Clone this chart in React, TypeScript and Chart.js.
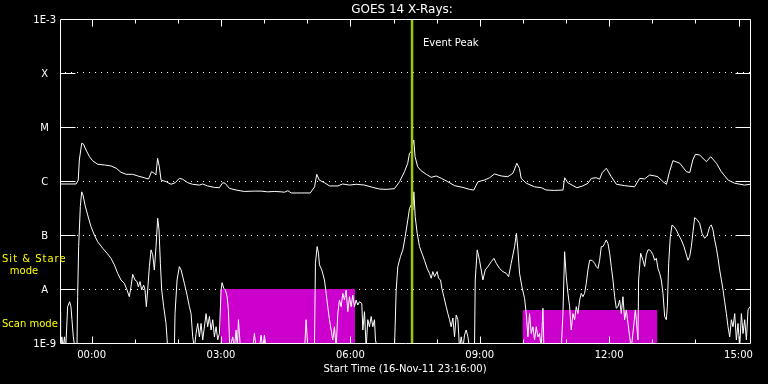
import React, { useEffect, useRef } from 'react';
import { Chart, registerables } from 'chart.js';

Chart.register(...registerables);

const FONT = "'DejaVu Sans', 'Liberation Sans', sans-serif";

// Time axis: hours relative to 17-Nov-11 00:00 (start 16-Nov-11 23:16:00, 16 h window)
const xMinHour = -44 / 60;
const xMaxHour = 16 - 44 / 60;
const xTickHours = [0, 3, 6, 9, 12, 15];
const xTickLabels = ['00:00', '03:00', '06:00', '09:00', '12:00', '15:00'];

const yTickValues = [1e-9, 1e-8, 1e-7, 1e-6, 1e-5, 1e-4, 1e-3];
const yTickLabels = ['1E-9', 'A', 'B', 'C', 'M', 'X', '1E-3'];

const eventPeakHour = 7.43;

// [hour, flux W/m^2] - long channel (1-8 A)
const longChannel: [number, number][] = [
  [-0.733, 8.8e-7], [-0.36, 8.8e-7], [-0.31, 1.04e-6], [-0.285, 2.45e-6], [-0.23, 5.0e-6],
  [-0.19, 4.84e-6], [-0.13, 3.75e-6], [-0.05, 2.82e-6], [0.02, 2.38e-6], [0.14, 2.04e-6],
  [0.30, 1.98e-6], [0.45, 1.9e-6], [0.57, 1.72e-6], [0.68, 1.45e-6], [0.80, 1.33e-6],
  [0.95, 1.33e-6], [1.07, 1.24e-6], [1.22, 1.15e-6], [1.32, 1.09e-6], [1.39, 1.49e-6],
  [1.455, 1.39e-6], [1.49, 1.29e-6], [1.53, 2.63e-6], [1.57, 1.84e-6], [1.61, 1.04e-6],
  [1.73, 9.7e-7], [1.84, 8.7e-7], [1.94, 9.3e-7], [2.035, 1.12e-6], [2.11, 1.08e-6],
  [2.23, 9.3e-7], [2.34, 8.7e-7], [2.50, 8.4e-7], [2.575, 8.8e-7], [2.69, 8.1e-7],
  [2.85, 7.6e-7], [2.96, 7.5e-7], [3.04, 9.3e-7], [3.095, 9.1e-7], [3.195, 7.3e-7],
  [3.35, 6.8e-7], [3.54, 6.4e-7], [3.775, 6.5e-7], [3.93, 6.5e-7], [4.08, 6.3e-7],
  [4.24, 6.4e-7], [4.39, 6.3e-7], [4.47, 6.2e-7], [4.55, 6.6e-7], [4.63, 6.0e-7],
  [4.86, 6.0e-7], [5.07, 6.0e-7], [5.17, 7.8e-7], [5.22, 1.33e-6], [5.28, 1.04e-6],
  [5.40, 9.3e-7], [5.515, 8.1e-7], [5.71, 8.1e-7], [5.82, 8.8e-7], [5.98, 8.4e-7],
  [6.135, 8.7e-7], [6.33, 8.4e-7], [6.52, 7.6e-7], [6.675, 7.1e-7], [6.83, 7.0e-7],
  [7.02, 7.2e-7], [7.14, 9.7e-7], [7.255, 1.49e-6], [7.33, 2.13e-6], [7.37, 3.26e-6],
  [7.41, 3.49e-6], [7.47, 5.74e-6], [7.50, 2.82e-6], [7.56, 1.84e-6], [7.64, 1.55e-6],
  [7.76, 1.33e-6], [7.875, 1.17e-6], [7.99, 1.24e-6], [8.11, 1.12e-6], [8.26, 9.7e-7],
  [8.415, 8.2e-7], [8.61, 7.6e-7], [8.76, 7.0e-7], [8.86, 6.8e-7], [8.96, 9.7e-7],
  [9.11, 1.04e-6], [9.23, 1.15e-6], [9.34, 1.35e-6], [9.50, 1.24e-6], [9.65, 1.2e-6],
  [9.77, 1.39e-6], [9.86, 2.13e-6], [9.92, 1.72e-6], [9.96, 1.12e-6], [10.08, 9.1e-7],
  [10.27, 7.8e-7], [10.43, 7.5e-7], [10.54, 6.8e-7], [10.735, 6.7e-7], [10.93, 6.8e-7],
  [10.97, 1.15e-6], [11.04, 9.3e-7], [11.14, 8.4e-7], [11.25, 7.5e-7], [11.39, 8.1e-7],
  [11.51, 9.1e-7], [11.59, 1.12e-6], [11.70, 1.15e-6], [11.78, 1.08e-6], [11.84, 1.43e-6],
  [11.935, 1.72e-6], [12.05, 1.2e-6], [12.17, 8.7e-7], [12.36, 8.2e-7], [12.59, 7.8e-7],
  [12.71, 1.12e-6], [12.82, 1.09e-6], [12.94, 1.29e-6], [13.06, 1.24e-6], [13.13, 1.2e-6],
  [13.25, 9.7e-7], [13.33, 8.7e-7], [13.40, 1.49e-6], [13.48, 2.38e-6], [13.64, 2.13e-6],
  [13.79, 1.49e-6], [13.87, 1.43e-6], [13.94, 2.45e-6], [14.00, 3.12e-6], [14.10, 3.03e-6],
  [14.255, 2.28e-6], [14.355, 2.82e-6], [14.49, 2.13e-6], [14.60, 1.49e-6], [14.76, 1.04e-6],
  [14.91, 9.1e-7], [15.14, 8.4e-7], [15.267, 8.7e-7],
];

// [hour, flux W/m^2] - short channel (0.5-4 A); values below 1E-9 sit under the axis
const shortChannel: [number, number][] = [
  [-0.733, 3.8e-9], [-0.72, 8e-10], [-0.69, 1.3e-9], [-0.66, 8e-10], [-0.63, 1.3e-9],
  [-0.60, 8e-10], [-0.556, 4.7e-9], [-0.51, 5.8e-9], [-0.479, 4.7e-9], [-0.456, 2.7e-9],
  [-0.425, 1.3e-9], [-0.386, 8e-10], [-0.34, 8e-10], [-0.324, 7.2e-9], [-0.301, 6.1e-8],
  [-0.262, 3.35e-7], [-0.231, 6.3e-7], [-0.20, 5.5e-7], [-0.154, 3.6e-7], [-0.092, 2.35e-7],
  [-0.015, 1.43e-7], [0.063, 1.0e-7], [0.14, 7.5e-8], [0.256, 5.7e-8], [0.372, 4.45e-8],
  [0.449, 3.7e-8], [0.527, 2.8e-8], [0.604, 1.95e-8], [0.681, 1.47e-8], [0.759, 1.27e-8],
  [0.821, 9.6e-9], [0.874, 7.2e-9], [0.913, 1.1e-8], [0.952, 1.87e-8], [1.006, 1.47e-8],
  [1.053, 1.37e-8], [1.084, 1.1e-8], [1.122, 1.37e-8], [1.161, 9.6e-9], [1.207, 1.18e-8],
  [1.238, 9.6e-9], [1.269, 4.7e-9], [1.30, 9.6e-9], [1.339, 2.6e-8], [1.378, 5.3e-8],
  [1.416, 4.3e-8], [1.455, 2.25e-8], [1.493, 6.1e-8], [1.532, 2.04e-7], [1.563, 1.24e-7],
  [1.594, 3.0e-8], [1.625, 9.6e-9], [1.671, 4.7e-9], [1.725, 2.3e-9], [1.764, 8e-10],
  [1.919, 8e-10], [1.934, 3.5e-9], [1.981, 1.47e-8], [2.035, 2.6e-8], [2.074, 2.25e-8],
  [2.151, 1.27e-8], [2.213, 7.7e-9], [2.267, 4.7e-9], [2.306, 3.5e-9], [2.344, 1.3e-9],
  [2.383, 8e-10], [2.422, 1.5e-9], [2.46, 2.3e-9], [2.499, 1.3e-9], [2.538, 2.3e-9],
  [2.576, 1.14e-9], [2.654, 3.5e-9], [2.692, 2.0e-9], [2.731, 3.1e-9], [2.77, 1.74e-9],
  [2.809, 2.7e-9], [2.847, 1.3e-9], [2.886, 2.0e-9], [2.924, 1.14e-9], [2.963, 1.5e-9],
  [3.002, 9.6e-9], [3.025, 1.31e-8], [3.064, 1.03e-8], [3.102, 9.6e-9], [3.141, 7.2e-9],
  [3.172, 4.1e-9], [3.203, 8e-10], [3.272, 1.3e-9], [3.31, 8e-10], [3.35, 1.74e-9],
  [3.38, 8e-10], [3.404, 2.7e-9], [3.45, 8e-10], [3.736, 8e-10], [3.775, 1.5e-9],
  [3.814, 8e-10], [3.891, 8e-10], [3.929, 1.4e-9], [3.968, 8e-10], [4.007, 1.4e-9],
  [4.045, 8e-10], [4.94, 8e-10], [4.974, 2.7e-9], [5.012, 8e-10], [5.167, 8e-10],
  [5.19, 3.0e-8], [5.229, 6.1e-8], [5.26, 4.6e-8], [5.283, 2.8e-8], [5.337, 2.25e-8],
  [5.399, 1.47e-8], [5.438, 8.3e-9], [5.476, 4.7e-9], [5.515, 2.7e-9], [5.554, 1.74e-9],
  [5.592, 1.14e-9], [5.631, 2.0e-9], [5.67, 8e-10], [5.708, 3.5e-9], [5.747, 6.25e-9],
  [5.786, 4.7e-9], [5.824, 8.3e-9], [5.863, 6.25e-9], [5.902, 9.6e-9], [5.94, 3.8e-9],
  [5.979, 7.2e-9], [6.018, 4.7e-9], [6.056, 7.7e-9], [6.095, 4.7e-9], [6.134, 6.25e-9],
  [6.172, 5.05e-9], [6.211, 5.8e-9], [6.265, 5.4e-9], [6.289, 1.74e-9], [6.327, 3.8e-9],
  [6.366, 8e-10], [6.404, 2.7e-9], [6.443, 2.0e-9], [6.482, 3.1e-9], [6.52, 2.0e-9],
  [6.559, 2.7e-9], [6.582, 1.14e-9], [6.621, 8e-10], [7.023, 8e-10], [7.062, 9.6e-9],
  [7.10, 2.6e-8], [7.162, 4.0e-8], [7.217, 5.3e-8], [7.271, 9.3e-8], [7.332, 1.9e-7],
  [7.371, 3.1e-7], [7.41, 3.6e-7], [7.449, 2.9e-7], [7.472, 6.3e-7], [7.503, 2.2e-7],
  [7.549, 1.07e-7], [7.603, 6.1e-8], [7.658, 4.6e-8], [7.719, 3.4e-8], [7.781, 2.4e-8],
  [7.835, 1.95e-8], [7.874, 1.58e-8], [7.912, 2.1e-8], [7.951, 1.69e-8], [8.013, 2.1e-8],
  [8.044, 1.58e-8], [8.091, 1.47e-8], [8.121, 1.03e-8], [8.168, 7.2e-9], [8.222, 4.7e-9],
  [8.261, 3.5e-9], [8.299, 2.7e-9], [8.338, 2.0e-9], [8.377, 2.9e-9], [8.415, 1.3e-9],
  [8.454, 3.3e-9], [8.493, 2.7e-9], [8.531, 8e-10], [8.57, 1.3e-9], [8.609, 8e-10],
  [8.647, 1.4e-9], [8.686, 1.74e-9], [8.725, 1.3e-9], [8.763, 8e-10], [8.879, 8e-10],
  [8.895, 1.47e-8], [8.941, 5.3e-8], [8.995, 3.4e-8], [9.034, 2.25e-8], [9.073, 1.47e-8],
  [9.127, 2.25e-8], [9.189, 2.6e-8], [9.266, 3.2e-8], [9.328, 3.7e-8], [9.382, 3.0e-8],
  [9.46, 2.4e-8], [9.537, 2.1e-8], [9.614, 1.95e-8], [9.669, 1.69e-8], [9.73, 3.0e-8],
  [9.808, 6.1e-8], [9.85, 1.07e-7], [9.885, 5.3e-8], [9.923, 1.95e-8], [9.978, 1.1e-8],
  [10.039, 6.7e-9], [10.078, 3.5e-9], [10.117, 1.3e-9], [10.155, 3.5e-9], [10.194, 1.5e-9],
  [10.233, 2.0e-9], [10.271, 1.14e-9], [10.31, 2.0e-9], [10.349, 1.3e-9], [10.387, 1.5e-9],
  [10.426, 8e-10], [10.465, 4.4e-9], [10.488, 8e-10], [10.89, 8e-10], [10.929, 3.5e-9],
  [10.968, 4.9e-8], [11.006, 1.69e-8], [11.045, 8.3e-9], [11.084, 4.7e-9], [11.122, 1.74e-9],
  [11.161, 3.5e-9], [11.2, 2.7e-9], [11.238, 4.7e-9], [11.277, 3.5e-9], [11.316, 6.25e-9],
  [11.354, 8.3e-9], [11.393, 7.2e-9], [11.431, 8.3e-9], [11.47, 1.27e-8], [11.509, 2.25e-8],
  [11.548, 3.4e-8], [11.602, 3.4e-8], [11.664, 3.0e-8], [11.702, 2.6e-8], [11.741, 2.4e-8],
  [11.78, 3.4e-8], [11.818, 6.1e-8], [11.857, 6.1e-8], [11.896, 7.0e-8], [11.934, 8.1e-8],
  [11.973, 7.0e-8], [12.012, 4.6e-8], [12.05, 2.6e-8], [12.089, 1.47e-8], [12.128, 7.2e-9],
  [12.166, 4.4e-9], [12.205, 4.7e-9], [12.244, 6.25e-9], [12.282, 3.5e-9], [12.321, 7.2e-9],
  [12.36, 2.7e-9], [12.398, 4.1e-9], [12.437, 2.3e-9], [12.476, 1.3e-9], [12.514, 8e-10],
  [12.576, 2.3e-9], [12.607, 4.1e-9], [12.63, 2.7e-9], [12.669, 1.14e-9], [12.684, 1.47e-8],
  [12.731, 4.6e-8], [12.785, 3.4e-8], [12.824, 2.6e-8], [12.862, 4.3e-8], [12.901, 5.3e-8],
  [12.94, 5.3e-8], [12.978, 4.9e-8], [13.017, 4.3e-8], [13.056, 3.4e-8], [13.094, 3.7e-8],
  [13.133, 2.4e-8], [13.172, 1.95e-8], [13.21, 1.47e-8], [13.249, 8.3e-9], [13.288, 3.1e-9],
  [13.326, 2.7e-9], [13.35, 4.7e-9], [13.381, 3.0e-8], [13.419, 9.3e-8], [13.458, 1.53e-7],
  [13.504, 1.43e-7], [13.558, 1.24e-7], [13.613, 1.0e-7], [13.674, 8.1e-8], [13.736, 6.1e-8],
  [13.791, 4.3e-8], [13.829, 3.4e-8], [13.868, 4.0e-8], [13.907, 6.1e-8], [13.945, 1.15e-7],
  [13.984, 2.1e-7], [14.046, 1.9e-7], [14.1, 1.64e-7], [14.154, 1.07e-7], [14.216, 8.7e-8],
  [14.278, 1.0e-7], [14.332, 1.43e-7], [14.371, 1.53e-7], [14.409, 1.24e-7], [14.448, 8.1e-8],
  [14.487, 5.7e-8], [14.526, 3.7e-8], [14.564, 2.25e-8], [14.603, 1.47e-8], [14.642, 9.6e-9],
  [14.68, 5.8e-9], [14.719, 3.5e-9], [14.757, 2.0e-9], [14.796, 1.3e-9], [14.835, 2.7e-9],
  [14.873, 2.0e-9], [14.912, 3.5e-9], [14.951, 1.14e-9], [14.989, 2.3e-9], [15.028, 8e-10],
  [15.067, 3.5e-9], [15.105, 1.5e-9], [15.144, 2.7e-9], [15.183, 1.14e-9], [15.221, 4.1e-9],
  [15.267, 4.7e-9],
];

// Instrument mode intervals [hour, level]
const sitStareMode: [number, number][] = [[2.98, 1e-8], [6.11, 1e-8]];
const scanMode: [number, number][] = [[9.99, 4.1e-9], [13.12, 4.1e-9]];
const eventPeakLine: [number, number][] = [[eventPeakHour, 1e-9], [eventPeakHour, 1e-3]];

const toXY = (arr: [number, number][]) => arr.map(([x, y]) => ({ x, y }));

const decorations = {
  id: 'goesDecorations',
  beforeDraw(chart: any) {
    const { ctx, width, height } = chart;
    ctx.save();
    ctx.fillStyle = '#000';
    ctx.fillRect(0, 0, width, height);
    ctx.restore();
  },
  afterDatasetsDraw(chart: any) {
    const { ctx, chartArea: a, scales } = chart;
    const xs = scales.x;
    const ys = scales.y;
    const L = Math.round(a.left) + 0.5;
    const R = Math.round(a.right) + 0.5;
    const T = Math.round(a.top) + 0.5;
    const B = Math.round(a.bottom) + 0.5;
    ctx.save();
    ctx.strokeStyle = '#ffffff';
    ctx.lineWidth = 1;
    ctx.setLineDash([]);
    ctx.beginPath();
    ctx.moveTo(L, T); ctx.lineTo(R, T); ctx.lineTo(R, B); ctx.lineTo(L, B); ctx.closePath();
    for (let h = 0; h <= 15; h++) {
      const px = Math.round(xs.getPixelForValue(h)) + 0.5;
      const len = h % 3 === 0 ? 7 : 4;
      ctx.moveTo(px, T); ctx.lineTo(px, T + len);
      ctx.moveTo(px, B); ctx.lineTo(px, B - len);
    }
    for (let i = 1; i < yTickValues.length - 1; i++) {
      const py = Math.round(ys.getPixelForValue(yTickValues[i])) + 0.5;
      ctx.moveTo(L, py); ctx.lineTo(L + 15, py);
      ctx.moveTo(R - 15, py); ctx.lineTo(R, py);
    }
    ctx.stroke();
    ctx.restore();
  },
  afterDraw(chart: any) {
    const { ctx, scales } = chart;
    ctx.save();
    ctx.textBaseline = 'middle';
    ctx.fillStyle = '#ffffff';
    ctx.font = `12px ${FONT}`;
    ctx.textAlign = 'center';
    ctx.fillText('GOES 14 X-Rays:', 402, 10);
    ctx.font = `10px ${FONT}`;
    ctx.textAlign = 'left';
    ctx.fillText('Event Peak', scales.x.getPixelForValue(eventPeakHour) + 11, 43);
    ctx.fillStyle = '#ffff00';
    (ctx as any).letterSpacing = '1px';
    ctx.fillText('Sit & Stare', 2, 259);
    (ctx as any).letterSpacing = '0px';
    ctx.textAlign = 'center';
    ctx.fillText('mode', 24, 271);
    ctx.textAlign = 'left';
    ctx.fillText('Scan mode', 2, 324);
    ctx.restore();
  },
};

export default function App() {
  const canvasRef = useRef<HTMLCanvasElement>(null);

  useEffect(() => {
    document.body.style.margin = '0';
    document.body.style.background = '#000';
    const canvas = canvasRef.current;
    if (!canvas) return;
    const chart = new Chart(canvas, {
      type: 'line',
      data: {
        datasets: [
          {
            label: 'Sit & Stare mode',
            data: toXY(sitStareMode),
            borderWidth: 0,
            borderColor: 'rgba(0,0,0,0)',
            backgroundColor: '#cc00cc',
            fill: 'start',
            pointRadius: 0,
            order: 5,
          },
          {
            label: 'Scan mode',
            data: toXY(scanMode),
            borderWidth: 0,
            borderColor: 'rgba(0,0,0,0)',
            backgroundColor: '#cc00cc',
            fill: 'start',
            pointRadius: 0,
            order: 5,
          },
          {
            label: '1-8 A',
            data: toXY(longChannel),
            borderColor: '#ffffff',
            borderWidth: 1,
            pointRadius: 0,
            tension: 0,
            fill: false,
            order: 2,
          },
          {
            label: '0.5-4 A',
            data: toXY(shortChannel),
            borderColor: '#ffffff',
            borderWidth: 1,
            pointRadius: 0,
            tension: 0,
            fill: false,
            order: 2,
          },
          {
            label: 'Event Peak',
            data: toXY(eventPeakLine),
            borderColor: '#99cc00',
            borderWidth: 2.5,
            pointRadius: 0,
            fill: false,
            order: 0,
          },
        ],
      },
      options: {
        animation: false,
        responsive: false,
        devicePixelRatio: 1,
        layout: { padding: { top: 19, right: 18, left: 0, bottom: 0 } },
        plugins: {
          legend: { display: false },
          tooltip: { enabled: false },
          title: { display: false },
        },
        scales: {
          x: {
            type: 'linear',
            min: xMinHour,
            max: xMaxHour,
            afterBuildTicks: (scale: any) => {
              scale.ticks = xTickHours.map((value) => ({ value }));
            },
            afterFit: (scale: any) => {
              scale.height = 41;
            },
            grid: { display: false, drawTicks: false },
            border: { display: false },
            ticks: {
              color: '#ffffff',
              font: { family: FONT, size: 10 },
              padding: 6,
              maxRotation: 0,
              autoSkip: false,
              callback: (v: any) => {
                const i = xTickHours.indexOf(Number(v));
                return i >= 0 ? xTickLabels[i] : '';
              },
            },
            title: {
              display: true,
              text: 'Start Time (16-Nov-11 23:16:00)',
              color: '#ffffff',
              font: { family: FONT, size: 10 },
              padding: { top: 0, bottom: 9 },
            },
          },
          y: {
            type: 'logarithmic',
            min: 1e-9,
            max: 1e-3,
            afterBuildTicks: (scale: any) => {
              scale.ticks = yTickValues.map((value) => ({ value }));
            },
            afterFit: (scale: any) => {
              scale.width = 60;
            },
            grid: {
              drawTicks: false,
              lineWidth: 1,
              color: (ctx: any) => {
                const v = ctx.tick ? ctx.tick.value : null;
                if (v === null) return 'rgba(0,0,0,0)';
                const e = Math.round(Math.log10(v));
                return e === -9 || e === -3 ? 'rgba(0,0,0,0)' : '#ffffff';
              },
            },
            border: { display: false, dash: [1, 5], dashOffset: 1 },
            ticks: {
              color: '#ffffff',
              font: { family: FONT, size: 10 },
              padding: 4,
              crossAlign: 'center',
              labelOffset: 1.5,
              autoSkip: false,
              callback: (v: any) => {
                const e = Math.round(Math.log10(Number(v)));
                const i = yTickValues.findIndex((t) => Math.round(Math.log10(t)) === e);
                return i >= 0 ? yTickLabels[i] : '';
              },
            },
          },
        },
      },
      plugins: [decorations],
    } as any);
    return () => chart.destroy();
  }, []);

  return (
    <canvas
      ref={canvasRef}
      width={768}
      height={384}
      style={{ display: 'block', width: 768, height: 384 }}
    />
  );
}
